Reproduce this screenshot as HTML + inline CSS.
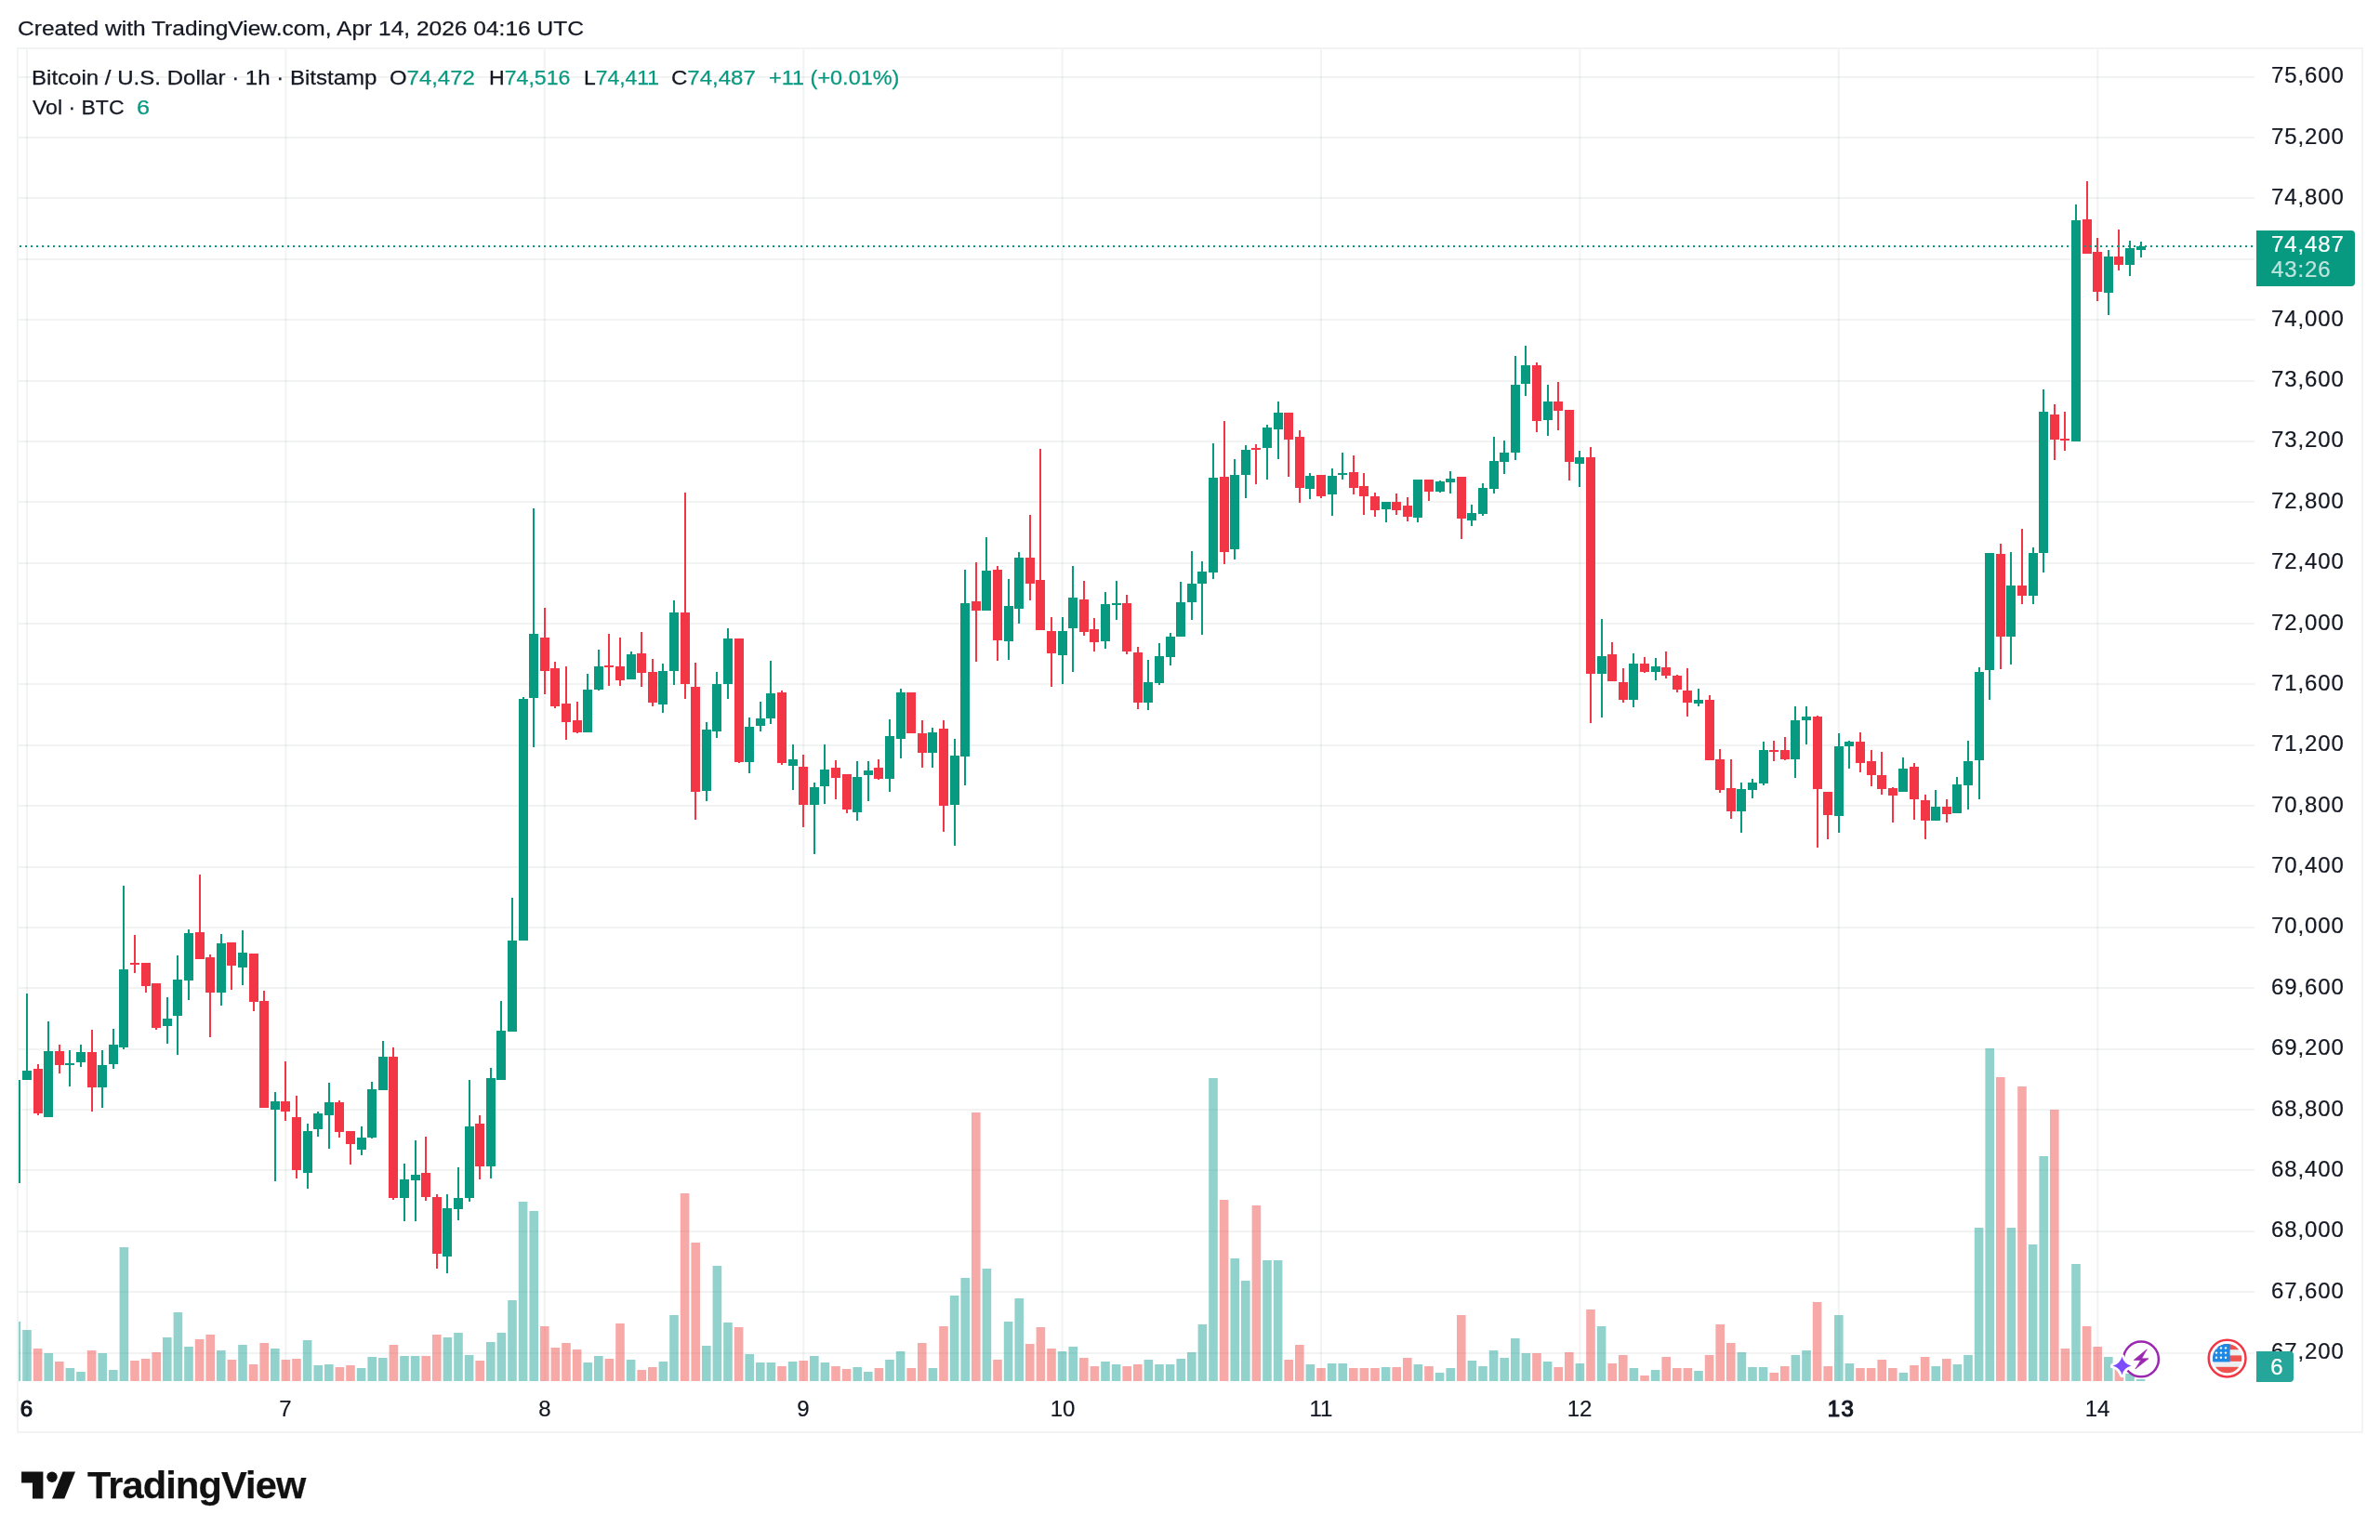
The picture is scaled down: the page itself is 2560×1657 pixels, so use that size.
<!DOCTYPE html><html><head><meta charset="utf-8"><title>BTCUSD</title><style>
html,body{margin:0;padding:0;background:#fff}
body{width:2560px;height:1657px;position:relative;overflow:hidden;font-family:"Liberation Sans",sans-serif;color:#131722}
.t{position:absolute;white-space:nowrap;line-height:1;will-change:transform;-webkit-text-stroke:.25px}
.pl{position:absolute;will-change:transform;-webkit-text-stroke:.2px;left:2443px;font-size:24px;line-height:24px;letter-spacing:.9px;white-space:nowrap}
.tl{position:absolute;will-change:transform;-webkit-text-stroke:.2px;top:1504px;width:80px;text-align:center;font-size:24px;line-height:24px;white-space:nowrap}
.g{color:#089981}

</style></head><body>
<svg width="2560" height="1657" viewBox="0 0 2560 1657" style="position:absolute;left:0;top:0" shape-rendering="crispEdges"><defs><clipPath id="pc"><rect x="20" y="53" width="2405" height="1433"/></clipPath></defs><rect x="19" y="52" width="2522" height="1489" fill="none" stroke="#f2f4f4" stroke-width="2"/><path d="M28.00 53v1433h2v-1433zM306.40 53v1433h2v-1433zM584.80 53v1433h2v-1433zM863.20 53v1433h2v-1433zM1141.60 53v1433h2v-1433zM1420.00 53v1433h2v-1433zM1698.40 53v1433h2v-1433zM1976.80 53v1433h2v-1433zM2255.20 53v1433h2v-1433z" fill="rgba(42,46,57,0.06)" shape-rendering="geometricPrecision"/><path d="M20 1455h2405v2h-2405zM20 1389h2405v2h-2405zM20 1324h2405v2h-2405zM20 1258h2405v2h-2405zM20 1193h2405v2h-2405zM20 1128h2405v2h-2405zM20 1062h2405v2h-2405zM20 997h2405v2h-2405zM20 932h2405v2h-2405zM20 866h2405v2h-2405zM20 801h2405v2h-2405zM20 735h2405v2h-2405zM20 670h2405v2h-2405zM20 605h2405v2h-2405zM20 539h2405v2h-2405zM20 474h2405v2h-2405zM20 409h2405v2h-2405zM20 343h2405v2h-2405zM20 278h2405v2h-2405zM20 212h2405v2h-2405zM20 147h2405v2h-2405zM20 82h2405v2h-2405z" fill="rgba(42,46,57,0.06)"/><g clip-path="url(#pc)"><path d="M12.60 1422h9.6V1486h-9.6zM24.20 1431h9.6V1486h-9.6zM47.40 1456h9.6V1486h-9.6zM70.60 1472h9.6V1486h-9.6zM82.20 1476h9.6V1486h-9.6zM105.40 1456h9.6V1486h-9.6zM117.00 1474h9.6V1486h-9.6zM128.60 1342h9.6V1486h-9.6zM175.00 1439h9.6V1486h-9.6zM186.60 1412h9.6V1486h-9.6zM198.20 1449h9.6V1486h-9.6zM233.00 1453h9.6V1486h-9.6zM256.20 1447h9.6V1486h-9.6zM291.00 1451h9.6V1486h-9.6zM325.80 1442h9.6V1486h-9.6zM337.40 1469h9.6V1486h-9.6zM349.00 1468h9.6V1486h-9.6zM383.80 1472h9.6V1486h-9.6zM395.40 1460h9.6V1486h-9.6zM407.00 1461h9.6V1486h-9.6zM430.20 1459h9.6V1486h-9.6zM441.80 1459h9.6V1486h-9.6zM476.60 1439h9.6V1486h-9.6zM488.20 1434h9.6V1486h-9.6zM499.80 1458h9.6V1486h-9.6zM523.00 1444h9.6V1486h-9.6zM534.60 1434h9.6V1486h-9.6zM546.20 1399h9.6V1486h-9.6zM557.80 1293h9.6V1486h-9.6zM569.40 1303h9.6V1486h-9.6zM627.40 1466h9.6V1486h-9.6zM639.00 1459h9.6V1486h-9.6zM673.80 1463h9.6V1486h-9.6zM708.60 1465h9.6V1486h-9.6zM720.20 1415h9.6V1486h-9.6zM755.00 1448h9.6V1486h-9.6zM766.60 1362h9.6V1486h-9.6zM778.20 1423h9.6V1486h-9.6zM801.40 1457h9.6V1486h-9.6zM813.00 1466h9.6V1486h-9.6zM824.60 1466h9.6V1486h-9.6zM847.80 1465h9.6V1486h-9.6zM871.00 1459h9.6V1486h-9.6zM882.60 1466h9.6V1486h-9.6zM917.40 1471h9.6V1486h-9.6zM929.00 1476h9.6V1486h-9.6zM952.20 1463h9.6V1486h-9.6zM963.80 1454h9.6V1486h-9.6zM998.60 1472h9.6V1486h-9.6zM1021.80 1394h9.6V1486h-9.6zM1033.40 1375h9.6V1486h-9.6zM1056.60 1365h9.6V1486h-9.6zM1079.80 1422h9.6V1486h-9.6zM1091.40 1397h9.6V1486h-9.6zM1137.80 1454h9.6V1486h-9.6zM1149.40 1449h9.6V1486h-9.6zM1184.20 1465h9.6V1486h-9.6zM1195.80 1468h9.6V1486h-9.6zM1230.60 1463h9.6V1486h-9.6zM1242.20 1468h9.6V1486h-9.6zM1253.80 1468h9.6V1486h-9.6zM1265.40 1462h9.6V1486h-9.6zM1277.00 1455h9.6V1486h-9.6zM1288.60 1425h9.6V1486h-9.6zM1300.20 1160h9.6V1486h-9.6zM1323.40 1354h9.6V1486h-9.6zM1335.00 1378h9.6V1486h-9.6zM1358.20 1356h9.6V1486h-9.6zM1369.80 1356h9.6V1486h-9.6zM1404.60 1468h9.6V1486h-9.6zM1427.80 1467h9.6V1486h-9.6zM1439.40 1467h9.6V1486h-9.6zM1485.80 1471h9.6V1486h-9.6zM1520.60 1468h9.6V1486h-9.6zM1543.80 1477h9.6V1486h-9.6zM1555.40 1472h9.6V1486h-9.6zM1578.60 1464h9.6V1486h-9.6zM1590.20 1470h9.6V1486h-9.6zM1601.80 1453h9.6V1486h-9.6zM1613.40 1461h9.6V1486h-9.6zM1625.00 1440h9.6V1486h-9.6zM1636.60 1456h9.6V1486h-9.6zM1659.80 1465h9.6V1486h-9.6zM1694.60 1467h9.6V1486h-9.6zM1717.80 1427h9.6V1486h-9.6zM1752.60 1472h9.6V1486h-9.6zM1775.80 1474h9.6V1486h-9.6zM1822.20 1475h9.6V1486h-9.6zM1868.60 1455h9.6V1486h-9.6zM1880.20 1471h9.6V1486h-9.6zM1891.80 1471h9.6V1486h-9.6zM1926.60 1458h9.6V1486h-9.6zM1938.20 1453h9.6V1486h-9.6zM1973.00 1415h9.6V1486h-9.6zM1984.60 1467h9.6V1486h-9.6zM2042.60 1477h9.6V1486h-9.6zM2077.40 1470h9.6V1486h-9.6zM2100.60 1468h9.6V1486h-9.6zM2112.20 1458h9.6V1486h-9.6zM2123.80 1321h9.6V1486h-9.6zM2135.40 1128h9.6V1486h-9.6zM2158.60 1321h9.6V1486h-9.6zM2181.80 1339h9.6V1486h-9.6zM2193.40 1244h9.6V1486h-9.6zM2228.20 1360h9.6V1486h-9.6zM2263.00 1460h9.6V1486h-9.6zM2286.20 1478h9.6V1486h-9.6zM2297.80 1484h9.6V1486h-9.6z" fill="rgba(38,166,154,0.5)" shape-rendering="geometricPrecision"/><path d="M35.80 1451h9.6V1486h-9.6zM59.00 1465h9.6V1486h-9.6zM93.80 1453h9.6V1486h-9.6zM140.20 1464h9.6V1486h-9.6zM151.80 1462h9.6V1486h-9.6zM163.40 1455h9.6V1486h-9.6zM209.80 1441h9.6V1486h-9.6zM221.40 1436h9.6V1486h-9.6zM244.60 1463h9.6V1486h-9.6zM267.80 1468h9.6V1486h-9.6zM279.40 1445h9.6V1486h-9.6zM302.60 1463h9.6V1486h-9.6zM314.20 1462h9.6V1486h-9.6zM360.60 1471h9.6V1486h-9.6zM372.20 1469h9.6V1486h-9.6zM418.60 1447h9.6V1486h-9.6zM453.40 1459h9.6V1486h-9.6zM465.00 1436h9.6V1486h-9.6zM511.40 1464h9.6V1486h-9.6zM581.00 1427h9.6V1486h-9.6zM592.60 1450h9.6V1486h-9.6zM604.20 1445h9.6V1486h-9.6zM615.80 1452h9.6V1486h-9.6zM650.60 1462h9.6V1486h-9.6zM662.20 1424h9.6V1486h-9.6zM685.40 1474h9.6V1486h-9.6zM697.00 1471h9.6V1486h-9.6zM731.80 1284h9.6V1486h-9.6zM743.40 1337h9.6V1486h-9.6zM789.80 1428h9.6V1486h-9.6zM836.20 1470h9.6V1486h-9.6zM859.40 1464h9.6V1486h-9.6zM894.20 1470h9.6V1486h-9.6zM905.80 1473h9.6V1486h-9.6zM940.60 1472h9.6V1486h-9.6zM975.40 1472h9.6V1486h-9.6zM987.00 1445h9.6V1486h-9.6zM1010.20 1427h9.6V1486h-9.6zM1045.00 1197h9.6V1486h-9.6zM1068.20 1463h9.6V1486h-9.6zM1103.00 1446h9.6V1486h-9.6zM1114.60 1428h9.6V1486h-9.6zM1126.20 1451h9.6V1486h-9.6zM1161.00 1461h9.6V1486h-9.6zM1172.60 1470h9.6V1486h-9.6zM1207.40 1470h9.6V1486h-9.6zM1219.00 1468h9.6V1486h-9.6zM1311.80 1291h9.6V1486h-9.6zM1346.60 1297h9.6V1486h-9.6zM1381.40 1463h9.6V1486h-9.6zM1393.00 1447h9.6V1486h-9.6zM1416.20 1472h9.6V1486h-9.6zM1451.00 1472h9.6V1486h-9.6zM1462.60 1472h9.6V1486h-9.6zM1474.20 1472h9.6V1486h-9.6zM1497.40 1471h9.6V1486h-9.6zM1509.00 1461h9.6V1486h-9.6zM1532.20 1470h9.6V1486h-9.6zM1567.00 1415h9.6V1486h-9.6zM1648.20 1456h9.6V1486h-9.6zM1671.40 1471h9.6V1486h-9.6zM1683.00 1455h9.6V1486h-9.6zM1706.20 1409h9.6V1486h-9.6zM1729.40 1467h9.6V1486h-9.6zM1741.00 1458h9.6V1486h-9.6zM1764.20 1480h9.6V1486h-9.6zM1787.40 1460h9.6V1486h-9.6zM1799.00 1472h9.6V1486h-9.6zM1810.60 1472h9.6V1486h-9.6zM1833.80 1458h9.6V1486h-9.6zM1845.40 1425h9.6V1486h-9.6zM1857.00 1445h9.6V1486h-9.6zM1903.40 1477h9.6V1486h-9.6zM1915.00 1470h9.6V1486h-9.6zM1949.80 1401h9.6V1486h-9.6zM1961.40 1470h9.6V1486h-9.6zM1996.20 1472h9.6V1486h-9.6zM2007.80 1472h9.6V1486h-9.6zM2019.40 1463h9.6V1486h-9.6zM2031.00 1472h9.6V1486h-9.6zM2054.20 1469h9.6V1486h-9.6zM2065.80 1460h9.6V1486h-9.6zM2089.00 1462h9.6V1486h-9.6zM2147.00 1159h9.6V1486h-9.6zM2170.20 1169h9.6V1486h-9.6zM2205.00 1194h9.6V1486h-9.6zM2216.60 1451h9.6V1486h-9.6zM2239.80 1427h9.6V1486h-9.6zM2251.40 1449h9.6V1486h-9.6zM2274.60 1473h9.6V1486h-9.6z" fill="rgba(239,83,80,0.5)" shape-rendering="geometricPrecision"/><path d="M12 1162h10V1273h-10zM24 1152h10V1162h-10zM28 1069h2V1152h-2zM47 1131h10V1202h-10zM51 1099h2V1131h-2zM70 1144h10V1146h-10zM74 1130h2V1144h-2zM74 1146h2V1169h-2zM82 1132h10V1143h-10zM86 1124h2V1132h-2zM86 1143h2V1148h-2zM105 1146h10V1170h-10zM109 1130h2V1146h-2zM109 1170h2V1192h-2zM117 1124h10V1145h-10zM121 1107h2V1124h-2zM121 1145h2V1150h-2zM128 1043h10V1127h-10zM132 953h2V1043h-2zM132 1127h2V1129h-2zM175 1096h10V1104h-10zM179 1073h2V1096h-2zM179 1104h2V1123h-2zM186 1054h10V1093h-10zM190 1028h2V1054h-2zM190 1093h2V1135h-2zM198 1004h10V1055h-10zM202 1000h2V1004h-2zM202 1055h2V1076h-2zM233 1015h10V1068h-10zM237 1005h2V1015h-2zM237 1068h2V1082h-2zM256 1025h10V1041h-10zM260 1001h2V1025h-2zM260 1041h2V1060h-2zM291 1185h10V1194h-10zM295 1175h2V1185h-2zM295 1194h2V1271h-2zM326 1217h10V1262h-10zM330 1209h2V1217h-2zM330 1262h2V1279h-2zM337 1198h10V1215h-10zM341 1196h2V1198h-2zM341 1215h2V1223h-2zM349 1186h10V1200h-10zM353 1165h2V1186h-2zM353 1200h2V1236h-2zM384 1224h10V1237h-10zM388 1212h2V1224h-2zM388 1237h2V1243h-2zM395 1172h10V1224h-10zM399 1164h2V1172h-2zM399 1224h2V1225h-2zM407 1137h10V1173h-10zM411 1120h2V1137h-2zM430 1269h10V1289h-10zM434 1252h2V1269h-2zM434 1289h2V1314h-2zM442 1264h10V1270h-10zM446 1227h2V1264h-2zM446 1270h2V1314h-2zM476 1300h10V1352h-10zM480 1285h2V1300h-2zM480 1352h2V1370h-2zM488 1289h10V1301h-10zM492 1256h2V1289h-2zM492 1301h2V1313h-2zM500 1212h10V1289h-10zM504 1162h2V1212h-2zM504 1289h2V1293h-2zM523 1160h10V1255h-10zM527 1149h2V1160h-2zM527 1255h2V1268h-2zM534 1109h10V1162h-10zM538 1077h2V1109h-2zM546 1012h10V1110h-10zM550 966h2V1012h-2zM558 752h10V1012h-10zM562 750h2V752h-2zM569 682h10V751h-10zM573 547h2V682h-2zM573 751h2V804h-2zM627 742h10V788h-10zM631 725h2V742h-2zM639 717h10V742h-10zM643 699h2V717h-2zM643 742h2V743h-2zM674 704h10V731h-10zM678 701h2V704h-2zM708 722h10V758h-10zM712 714h2V722h-2zM712 758h2V767h-2zM720 659h10V722h-10zM724 646h2V659h-2zM724 722h2V737h-2zM755 785h10V851h-10zM759 777h2V785h-2zM759 851h2V862h-2zM766 736h10V787h-10zM770 723h2V736h-2zM770 787h2V794h-2zM778 687h10V736h-10zM782 676h2V687h-2zM782 736h2V752h-2zM801 782h10V820h-10zM805 772h2V782h-2zM805 820h2V832h-2zM813 773h10V781h-10zM817 755h2V773h-2zM817 781h2V787h-2zM824 746h10V773h-10zM828 711h2V746h-2zM828 773h2V779h-2zM848 817h10V824h-10zM852 801h2V817h-2zM852 824h2V850h-2zM871 847h10V866h-10zM875 842h2V847h-2zM875 866h2V919h-2zM882 828h10V846h-10zM886 801h2V828h-2zM886 846h2V865h-2zM917 836h10V874h-10zM921 819h2V836h-2zM921 874h2V883h-2zM929 829h10V834h-10zM933 819h2V829h-2zM933 834h2V862h-2zM952 792h10V838h-10zM956 774h2V792h-2zM956 838h2V852h-2zM964 745h10V795h-10zM968 741h2V745h-2zM968 795h2V816h-2zM998 788h10V810h-10zM1002 783h2V788h-2zM1002 810h2V826h-2zM1022 813h10V866h-10zM1026 795h2V813h-2zM1026 866h2V910h-2zM1033 649h10V814h-10zM1037 613h2V649h-2zM1037 814h2V845h-2zM1056 614h10V657h-10zM1060 578h2V614h-2zM1080 652h10V690h-10zM1084 623h2V652h-2zM1084 690h2V710h-2zM1091 600h10V655h-10zM1095 594h2V600h-2zM1095 655h2V671h-2zM1138 679h10V705h-10zM1142 664h2V679h-2zM1142 705h2V736h-2zM1149 643h10V676h-10zM1153 609h2V643h-2zM1153 676h2V723h-2zM1184 650h10V690h-10zM1188 637h2V650h-2zM1188 690h2V698h-2zM1196 649h10V651h-10zM1200 625h2V649h-2zM1200 651h2V667h-2zM1230 734h10V756h-10zM1234 710h2V734h-2zM1234 756h2V764h-2zM1242 706h10V735h-10zM1246 692h2V706h-2zM1246 735h2V737h-2zM1254 685h10V707h-10zM1258 681h2V685h-2zM1258 707h2V716h-2zM1265 648h10V685h-10zM1269 626h2V648h-2zM1277 628h10V648h-10zM1281 593h2V628h-2zM1281 648h2V667h-2zM1288 615h10V628h-10zM1292 604h2V615h-2zM1292 628h2V683h-2zM1300 514h10V616h-10zM1304 477h2V514h-2zM1304 616h2V623h-2zM1323 511h10V591h-10zM1327 494h2V511h-2zM1327 591h2V602h-2zM1335 484h10V511h-10zM1339 479h2V484h-2zM1339 511h2V536h-2zM1358 460h10V482h-10zM1362 457h2V460h-2zM1362 482h2V516h-2zM1370 444h10V462h-10zM1374 432h2V444h-2zM1374 462h2V494h-2zM1404 512h10V526h-10zM1408 509h2V512h-2zM1408 526h2V537h-2zM1428 512h10V532h-10zM1432 504h2V512h-2zM1432 532h2V555h-2zM1439 509h10V511h-10zM1443 487h2V509h-2zM1443 511h2V516h-2zM1486 540h10V548h-10zM1490 548h2V562h-2zM1520 516h10V557h-10zM1524 557h2V562h-2zM1544 518h10V529h-10zM1548 517h2V518h-2zM1548 529h2V530h-2zM1555 515h10V519h-10zM1559 507h2V515h-2zM1559 519h2V531h-2zM1578 552h10V560h-10zM1582 543h2V552h-2zM1582 560h2V566h-2zM1590 525h10V553h-10zM1594 520h2V525h-2zM1594 553h2V555h-2zM1602 496h10V526h-10zM1606 470h2V496h-2zM1606 526h2V531h-2zM1613 487h10V497h-10zM1617 474h2V487h-2zM1617 497h2V510h-2zM1625 414h10V487h-10zM1629 383h2V414h-2zM1629 487h2V495h-2zM1636 393h10V413h-10zM1640 372h2V393h-2zM1640 413h2V426h-2zM1660 432h10V452h-10zM1664 414h2V432h-2zM1664 452h2V469h-2zM1694 492h10V499h-10zM1698 485h2V492h-2zM1698 499h2V524h-2zM1718 706h10V725h-10zM1722 666h2V706h-2zM1722 725h2V772h-2zM1752 714h10V753h-10zM1756 703h2V714h-2zM1756 753h2V761h-2zM1776 717h10V723h-10zM1780 708h2V717h-2zM1780 723h2V732h-2zM1822 753h10V757h-10zM1826 741h2V753h-2zM1826 757h2V760h-2zM1868 849h10V873h-10zM1872 842h2V849h-2zM1872 873h2V896h-2zM1880 842h10V850h-10zM1884 838h2V842h-2zM1884 850h2V859h-2zM1892 807h10V843h-10zM1896 798h2V807h-2zM1896 843h2V845h-2zM1926 775h10V817h-10zM1930 760h2V775h-2zM1930 817h2V837h-2zM1938 771h10V775h-10zM1942 760h2V771h-2zM1942 775h2V801h-2zM1973 803h10V878h-10zM1977 789h2V803h-2zM1977 878h2V896h-2zM1984 798h10V803h-10zM1988 797h2V798h-2zM1988 803h2V827h-2zM2042 827h10V852h-10zM2046 815h2V827h-2zM2077 868h10V883h-10zM2081 850h2V868h-2zM2100 844h10V875h-10zM2104 836h2V844h-2zM2112 819h10V845h-10zM2116 797h2V819h-2zM2116 845h2V871h-2zM2124 723h10V818h-10zM2128 718h2V723h-2zM2128 818h2V860h-2zM2135 595h10V721h-10zM2139 721h2V753h-2zM2158 630h10V685h-10zM2162 594h2V630h-2zM2162 685h2V715h-2zM2182 595h10V641h-10zM2186 589h2V595h-2zM2186 641h2V650h-2zM2193 443h10V595h-10zM2197 419h2V443h-2zM2197 595h2V616h-2zM2228 237h10V475h-10zM2232 220h2V237h-2zM2263 276h10V315h-10zM2267 269h2V276h-2zM2267 315h2V339h-2zM2286 267h10V285h-10zM2290 259h2V267h-2zM2290 285h2V297h-2zM2298 265h10V269h-10zM2302 260h2V265h-2zM2302 269h2V277h-2z" fill="#089981"/><path d="M36 1150h10V1198h-10zM40 1145h2V1150h-2zM40 1198h2V1200h-2zM59 1131h10V1146h-10zM63 1124h2V1131h-2zM63 1146h2V1155h-2zM94 1132h10V1170h-10zM98 1108h2V1132h-2zM98 1170h2V1196h-2zM140 1036h10V1038h-10zM144 1006h2V1036h-2zM144 1038h2V1047h-2zM152 1036h10V1061h-10zM156 1061h2V1068h-2zM163 1058h10V1106h-10zM167 1106h2V1108h-2zM210 1003h10V1032h-10zM214 941h2V1003h-2zM221 1030h10V1068h-10zM225 1027h2V1030h-2zM225 1068h2V1116h-2zM244 1014h10V1039h-10zM248 1039h2V1065h-2zM268 1026h10V1078h-10zM272 1078h2V1088h-2zM279 1077h10V1192h-10zM283 1066h2V1077h-2zM302 1185h10V1196h-10zM306 1142h2V1185h-2zM306 1196h2V1206h-2zM314 1202h10V1259h-10zM318 1179h2V1202h-2zM318 1259h2V1268h-2zM360 1186h10V1218h-10zM364 1184h2V1186h-2zM364 1218h2V1224h-2zM372 1217h10V1231h-10zM376 1231h2V1253h-2zM418 1137h10V1289h-10zM422 1127h2V1137h-2zM422 1289h2V1291h-2zM453 1262h10V1288h-10zM457 1223h2V1262h-2zM457 1288h2V1292h-2zM465 1288h10V1349h-10zM469 1285h2V1288h-2zM469 1349h2V1365h-2zM511 1209h10V1255h-10zM515 1200h2V1209h-2zM515 1255h2V1269h-2zM581 686h10V722h-10zM585 654h2V686h-2zM585 722h2V747h-2zM592 719h10V760h-10zM596 712h2V719h-2zM596 760h2V762h-2zM604 757h10V777h-10zM608 717h2V757h-2zM608 777h2V796h-2zM616 775h10V788h-10zM620 755h2V775h-2zM620 788h2V789h-2zM650 716h10V718h-10zM654 682h2V716h-2zM654 718h2V738h-2zM662 717h10V732h-10zM666 686h2V717h-2zM666 732h2V738h-2zM685 703h10V724h-10zM689 680h2V703h-2zM689 724h2V739h-2zM697 723h10V756h-10zM701 709h2V723h-2zM701 756h2V760h-2zM732 659h10V736h-10zM736 530h2V659h-2zM736 736h2V752h-2zM743 739h10V852h-10zM747 713h2V739h-2zM747 852h2V882h-2zM790 687h10V820h-10zM794 820h2V821h-2zM836 745h10V821h-10zM840 743h2V745h-2zM840 821h2V823h-2zM859 825h10V866h-10zM863 812h2V825h-2zM863 866h2V890h-2zM894 826h10V837h-10zM898 818h2V826h-2zM898 837h2V860h-2zM906 833h10V871h-10zM910 871h2V875h-2zM940 826h10V838h-10zM944 817h2V826h-2zM944 838h2V839h-2zM975 745h10V789h-10zM987 789h10V810h-10zM991 775h2V789h-2zM991 810h2V826h-2zM1010 784h10V867h-10zM1014 775h2V784h-2zM1014 867h2V895h-2zM1045 647h10V657h-10zM1049 605h2V647h-2zM1049 657h2V712h-2zM1068 613h10V689h-10zM1072 609h2V613h-2zM1072 689h2V711h-2zM1103 600h10V628h-10zM1107 554h2V600h-2zM1107 628h2V646h-2zM1114 624h10V678h-10zM1118 483h2V624h-2zM1126 679h10V703h-10zM1130 664h2V679h-2zM1130 703h2V739h-2zM1161 645h10V680h-10zM1165 625h2V645h-2zM1165 680h2V684h-2zM1172 677h10V691h-10zM1176 665h2V677h-2zM1176 691h2V701h-2zM1207 649h10V701h-10zM1211 640h2V649h-2zM1211 701h2V704h-2zM1219 702h10V756h-10zM1223 696h2V702h-2zM1223 756h2V763h-2zM1312 513h10V594h-10zM1316 453h2V513h-2zM1316 594h2V607h-2zM1346 482h10V484h-10zM1350 478h2V482h-2zM1350 484h2V521h-2zM1381 444h10V473h-10zM1385 473h2V513h-2zM1393 470h10V525h-10zM1397 463h2V470h-2zM1397 525h2V541h-2zM1416 511h10V534h-10zM1420 534h2V536h-2zM1451 508h10V525h-10zM1455 490h2V508h-2zM1455 525h2V532h-2zM1462 523h10V534h-10zM1466 509h2V523h-2zM1466 534h2V554h-2zM1474 534h10V549h-10zM1478 530h2V534h-2zM1478 549h2V556h-2zM1497 540h10V549h-10zM1501 531h2V540h-2zM1501 549h2V554h-2zM1509 544h10V556h-10zM1513 535h2V544h-2zM1513 556h2V561h-2zM1532 516h10V529h-10zM1536 529h2V539h-2zM1567 513h10V558h-10zM1571 558h2V580h-2zM1648 393h10V453h-10zM1652 390h2V393h-2zM1652 453h2V465h-2zM1671 432h10V442h-10zM1675 411h2V432h-2zM1675 442h2V463h-2zM1683 441h10V497h-10zM1687 497h2V517h-2zM1706 492h10V725h-10zM1710 481h2V492h-2zM1710 725h2V778h-2zM1729 704h10V733h-10zM1733 691h2V704h-2zM1741 734h10V753h-10zM1745 719h2V734h-2zM1745 753h2V756h-2zM1764 714h10V723h-10zM1768 707h2V714h-2zM1768 723h2V724h-2zM1787 718h10V727h-10zM1791 701h2V718h-2zM1791 727h2V730h-2zM1799 727h10V742h-10zM1803 726h2V727h-2zM1803 742h2V745h-2zM1810 743h10V756h-10zM1814 719h2V743h-2zM1814 756h2V771h-2zM1834 753h10V818h-10zM1838 748h2V753h-2zM1845 817h10V850h-10zM1849 806h2V817h-2zM1849 850h2V853h-2zM1857 848h10V873h-10zM1861 817h2V848h-2zM1861 873h2V881h-2zM1903 807h10V809h-10zM1907 797h2V807h-2zM1907 809h2V819h-2zM1915 807h10V817h-10zM1919 793h2V807h-2zM1919 817h2V818h-2zM1950 771h10V849h-10zM1954 770h2V771h-2zM1954 849h2V912h-2zM1961 852h10V877h-10zM1965 877h2V903h-2zM1996 798h10V821h-10zM2000 788h2V798h-2zM2000 821h2V831h-2zM2008 819h10V834h-10zM2012 807h2V819h-2zM2012 834h2V846h-2zM2019 834h10V849h-10zM2023 809h2V834h-2zM2023 849h2V855h-2zM2031 848h10V856h-10zM2035 847h2V848h-2zM2035 856h2V885h-2zM2054 825h10V860h-10zM2058 821h2V825h-2zM2058 860h2V882h-2zM2066 861h10V883h-10zM2070 855h2V861h-2zM2070 883h2V903h-2zM2089 868h10V876h-10zM2093 860h2V868h-2zM2093 876h2V885h-2zM2147 596h10V685h-10zM2151 585h2V596h-2zM2151 685h2V720h-2zM2170 630h10V641h-10zM2174 569h2V630h-2zM2174 641h2V650h-2zM2205 446h10V473h-10zM2209 435h2V446h-2zM2209 473h2V495h-2zM2216 472h10V474h-10zM2220 443h2V472h-2zM2220 474h2V485h-2zM2240 236h10V273h-10zM2244 195h2V236h-2zM2251 271h10V314h-10zM2255 256h2V271h-2zM2255 314h2V324h-2zM2274 276h10V285h-10zM2278 247h2V276h-2zM2278 285h2V291h-2z" fill="#f23645"/><path d="M21 265H2425" stroke="#089981" stroke-width="2" stroke-dasharray="2 4" fill="none"/></g></svg>
<div class="t " id="title" style="left:18.83px;top:20.0px;font-size:22px;transform:scaleX(1.1147);transform-origin:0 0">Created with TradingView.com, Apr 14, 2026 04:16 UTC</div>
<div class="t " id="lg1" style="left:34.06px;top:72.7px;font-size:22px;transform:scaleX(1.0929);transform-origin:0 0">Bitcoin / U.S. Dollar · 1h · Bitstamp</div>
<div class="t " id="lgo" style="left:419.27px;top:72.7px;font-size:22px;transform:scaleX(1.0867);transform-origin:0 0">O<span class="g">74,472</span></div>
<div class="t " id="lgh" style="left:525.54px;top:72.7px;font-size:22px;transform:scaleX(1.0512);transform-origin:0 0">H<span class="g">74,516</span></div>
<div class="t " id="lgl" style="left:627.75px;top:72.7px;font-size:22px;transform:scaleX(1.0408);transform-origin:0 0">L<span class="g">74,411</span></div>
<div class="t " id="lgc" style="left:722.31px;top:72.7px;font-size:22px;transform:scaleX(1.0915);transform-origin:0 0">C<span class="g">74,487</span></div>
<div class="t g" id="lgch" style="left:826.52px;top:72.7px;font-size:22px;transform:scaleX(1.0662);transform-origin:0 0">+11 (+0.01%)</div>
<div class="t " id="lg2" style="left:35.17px;top:104.8px;font-size:22px;transform:scaleX(1.0468);transform-origin:0 0">Vol · BTC</div>
<div class="t g" id="lg2v" style="left:147.20px;top:104.8px;font-size:22px;transform:scaleX(1.1455);transform-origin:0 0">6</div>
<div class="pl" style="top:1442.0px">67,200</div>
<div class="pl" style="top:1376.6px">67,600</div>
<div class="pl" style="top:1311.3px">68,000</div>
<div class="pl" style="top:1245.9px">68,400</div>
<div class="pl" style="top:1180.5px">68,800</div>
<div class="pl" style="top:1115.2px">69,200</div>
<div class="pl" style="top:1049.8px">69,600</div>
<div class="pl" style="top:984.4px">70,000</div>
<div class="pl" style="top:919.0px">70,400</div>
<div class="pl" style="top:853.7px">70,800</div>
<div class="pl" style="top:788.3px">71,200</div>
<div class="pl" style="top:722.9px">71,600</div>
<div class="pl" style="top:657.5px">72,000</div>
<div class="pl" style="top:592.2px">72,400</div>
<div class="pl" style="top:526.8px">72,800</div>
<div class="pl" style="top:461.4px">73,200</div>
<div class="pl" style="top:396.1px">73,600</div>
<div class="pl" style="top:330.7px">74,000</div>
<div class="pl" style="top:265.3px">74,400</div>
<div class="pl" style="top:199.9px">74,800</div>
<div class="pl" style="top:134.6px">75,200</div>
<div class="pl" style="top:69.2px">75,600</div>
<div class="tl" style="left:-11px;-webkit-text-stroke:1.1px;letter-spacing:1.2px;">6</div>
<div class="tl" style="left:267px;">7</div>
<div class="tl" style="left:546px;">8</div>
<div class="tl" style="left:824px;">9</div>
<div class="tl" style="left:1103px;">10</div>
<div class="tl" style="left:1381px;">11</div>
<div class="tl" style="left:1659px;">12</div>
<div class="tl" style="left:1938px;-webkit-text-stroke:1.1px;letter-spacing:1.2px;padding-left:2.4px;">13</div>
<div class="tl" style="left:2216px;">14</div>
<div style="position:absolute;left:2427px;top:248px;width:106px;height:60px;background:#089981;border-radius:0 4px 4px 0"></div>
<div class="pl" style="top:251px;color:#fff">74,487</div>
<div class="pl" style="top:278px;color:rgba(255,255,255,.72)">43:26</div>
<div style="position:absolute;left:2427px;top:1454px;width:40px;height:33px;background:#26a69a;border-radius:0 4px 4px 0"></div>
<div class="t" style="left:2427px;top:1459px;width:44px;text-align:center;font-size:24px;color:#fff">6</div>
<svg style="position:absolute;left:2260px;top:1430px" width="170" height="70" viewBox="0 0 170 70">
<circle cx="43" cy="32.4" r="18.9" fill="#fff" stroke="#9c27b0" stroke-width="2.5"/>
<path d="M49.3 21.8 L35.2 33.4 L42.8 33.4 L36.8 43 L51 31.8 L43.6 31.8 Z" fill="#9c27b0" stroke="#9c27b0" stroke-width=".7" stroke-linejoin="round"/>
<path d="M22.5 29.8 Q24.6 37.5 32.3 39.6 Q24.6 41.7 22.5 49.4 Q20.4 41.7 12.7 39.6 Q20.4 37.5 22.5 29.8Z" fill="#7c4dff" stroke="#fff" stroke-width="5.5" stroke-linejoin="round" paint-order="stroke"/>
<circle cx="135.6" cy="31.6" r="19.9" fill="#fff" stroke="#f23645" stroke-width="2.5"/>
<clipPath id="fc"><circle cx="135.6" cy="31.6" r="15.6"/></clipPath>
<g clip-path="url(#fc)">
<rect x="119" y="15" width="34" height="34" fill="#eceff1"/>
<rect x="119" y="16" width="34" height="6.2" fill="#ef5350"/>
<rect x="119" y="28.4" width="34" height="6.4" fill="#ef5350"/>
<rect x="119" y="40.8" width="34" height="8" fill="#ef5350"/>
<rect x="119" y="15" width="19.6" height="20.4" fill="#1e88e5"/>
<g fill="#fff"><circle cx="124" cy="20.4" r="1.2"/><circle cx="129" cy="20.4" r="1.2"/><circle cx="134" cy="20.4" r="1.2"/><circle cx="124" cy="25.6" r="1.2"/><circle cx="129" cy="25.6" r="1.2"/><circle cx="134" cy="25.6" r="1.2"/><circle cx="124" cy="30.8" r="1.2"/><circle cx="129" cy="30.8" r="1.2"/><circle cx="134" cy="30.8" r="1.2"/></g>
</g></svg>
<svg style="position:absolute;left:20px;top:1580px" width="70" height="36" viewBox="20 1580 70 36">
<path d="M23.1 1583.6H46.4V1612.6H35V1595.4H23.1Z" fill="#111"/>
<circle cx="56" cy="1589.2" r="5.7" fill="#111"/>
<path d="M67.6 1583.6H81L69.3 1612.6H56Z" fill="#111"/></svg>
<div class="t" id="logo" style="left:94.3px;top:1577px;font-size:41.5px;font-weight:bold;letter-spacing:-.85px;color:#111">TradingView</div>
</body></html>
